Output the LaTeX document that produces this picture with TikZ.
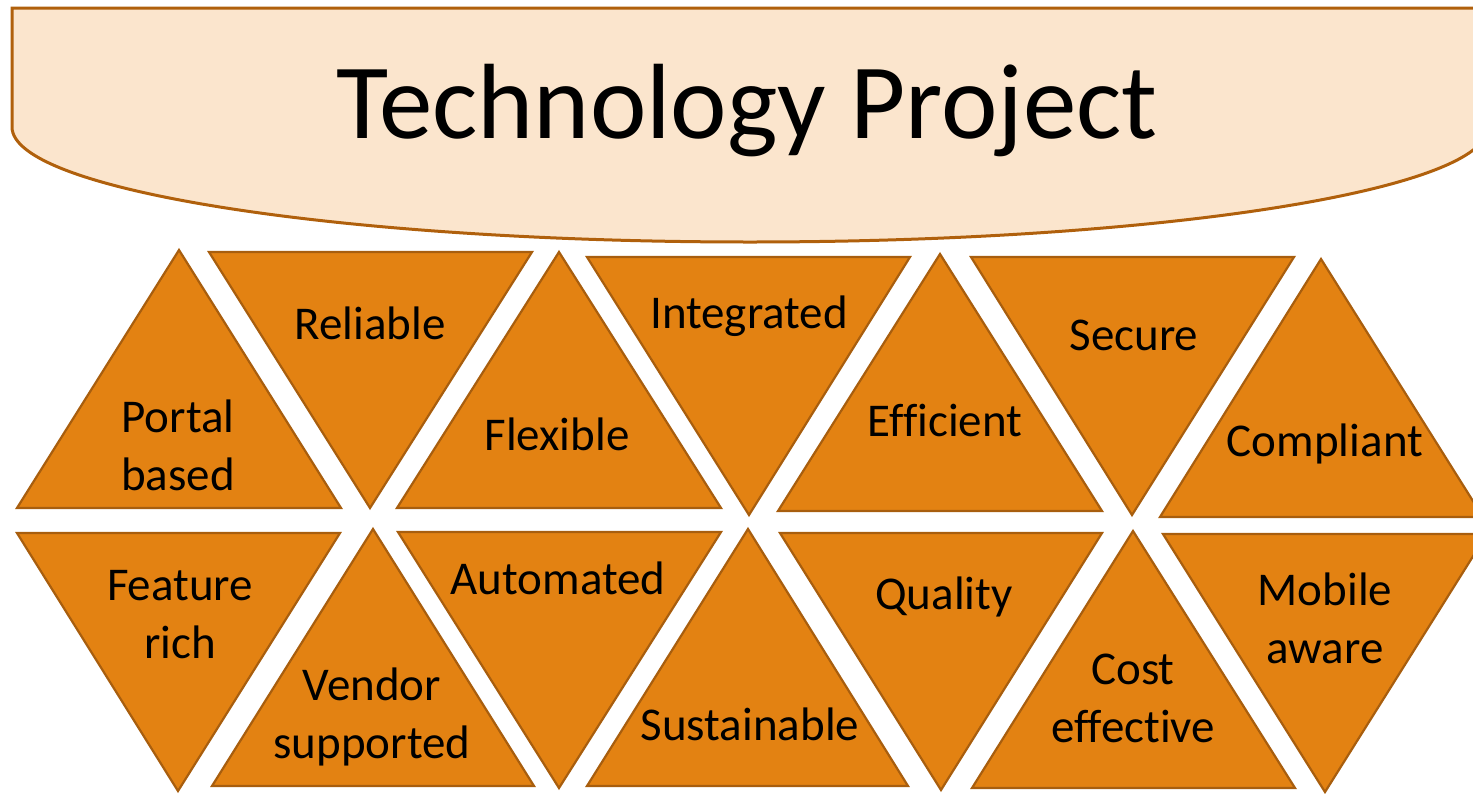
\documentclass[tikz,border=0pt]{standalone}
\usepackage{fontspec}
\setmainfont{Carlito}[Ligatures=NoCommon]
\definecolor{trifill}{HTML}{E38212}
\definecolor{triline}{HTML}{A85E0E}
\definecolor{banfill}{HTML}{FBE5CD}
\definecolor{banline}{HTML}{B0600C}
\begin{document}
\begin{tikzpicture}[x=1pt,y=-1pt,
  tri/.style={fill=trifill, draw=triline, line width=2.2pt},
  lbl/.style={font=\fontsize{47}{57.5}\selectfont, align=center, inner sep=0pt, anchor=base}]
\useasboundingbox (0,0) rectangle (1473,793);
\clip (0,0) rectangle (1473,793);
% banner
\draw[fill=banfill, draw=banline, line width=3pt]
  (12,8) -- (12,127) arc[start angle=180, end angle=360, x radius=738pt, y radius=115pt] -- (1488,8) -- cycle;
\node[font=\fontsize{107}{128}\selectfont, anchor=base, inner sep=0pt] (title) at (747,138) {Technology Project};
% top row
\draw[tri] (179,250) -- (341,508) -- (17,508) -- cycle;
\draw[tri] (209,252) -- (532,252) -- (370,508) -- cycle;
\draw[tri] (559,252) -- (721,508) -- (397,508) -- cycle;
\draw[tri] (587,257) -- (910,257) -- (749,515) -- cycle;
\draw[tri] (940,254) -- (1102,511) -- (778,511) -- cycle;
\draw[tri] (971,257) -- (1294,257) -- (1132,515) -- cycle;
\draw[tri] (1321,259) -- (1483,517) -- (1160,517) -- cycle;
% bottom row
\draw[tri] (17,533) -- (340,533) -- (178,791) -- cycle;
\draw[tri] (373,529) -- (534,786) -- (212,786) -- cycle;
\draw[tri] (398,532) -- (721,532) -- (559,788) -- cycle;
\draw[tri] (748,529) -- (908,786) -- (587,786) -- cycle;
\draw[tri] (780,533) -- (1102,533) -- (941,790) -- cycle;
\draw[tri] (1133,531) -- (1295,788) -- (972,788) -- cycle;
\draw[tri] (1163,534) -- (1487,534) -- (1325,792) -- cycle;
% labels (multi-line labels: base = last line)
\node[lbl] (portal) at (178,490) {Portal\\based};
\node[lbl] (reliable) at (370,339) {Reliable};
\node[lbl] (flexible) at (557,450) {Flexible};
\node[lbl] (integrated) at (749,328) {Integrated};
\node[lbl] (efficient) at (945,436) {Efficient};
\node[lbl] (secure) at (1134,350) {Secure};
\node[lbl] (compliant) at (1325,456) {Compliant};
\node[lbl] (feature) at (180,658) {Feature\\rich};
\node[lbl] (vendor) at (372,758) {Vendor\\supported};
\node[lbl] (automated) at (558,594) {Automated};
\node[lbl] (sustainable) at (750,740) {Sustainable};
\node[lbl] (quality) at (944,609) {Quality};
\node[lbl] (cost) at (1133,742) {Cost\\effective};
\node[lbl] (mobile) at (1325,663) {Mobile\\aware};
\end{tikzpicture}
\end{document}
